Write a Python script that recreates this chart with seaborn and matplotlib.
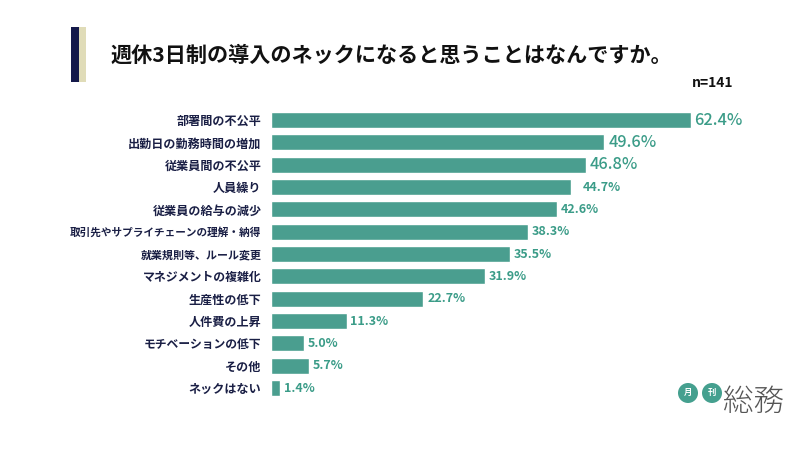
import matplotlib
matplotlib.use('Agg')
import matplotlib.pyplot as plt
import seaborn as sns
import pandas as pd
from matplotlib.patches import Rectangle, Circle

categories = ['部署間の不公平', '出勤日の勤務時間の増加', '従業員間の不公平', '人員繰り', '従業員の給与の減少',
              '取引先やサプライチェーンの理解・納得', '就業規則等、ルール変更', 'マネジメントの複雑化',
              '生産性の低下', '人件費の上昇', 'モチベーションの低下', 'その他', 'ネックはない']
values = [62.4, 49.6, 46.8, 44.7, 42.6, 38.3, 35.5, 31.9, 22.7, 11.3, 5.0, 5.7, 1.4]
value_sizes = [11.8, 11.8, 11.8, 9, 9, 9, 9, 9, 9, 9, 9, 9, 9]
# the two long labels are set tighter in the original
label_sizes = [8.7, 8.7, 8.7, 8.7, 8.7, 7.65, 7.9, 8.6, 8.7, 8.7, 8.5, 8.7, 8.7]

sns.set_theme(style='white')
plt.rcParams['font.family'] = ['Noto Sans CJK JP', 'DejaVu Sans']

GREEN = '#4a9e8f'
LABEL_GREEN = '#3b9c88'
NAVY = '#1a1f45'

df = pd.DataFrame({'item': categories, 'rate': values})

W, H = 800, 450
fig = plt.figure(figsize=(8, 4.5), dpi=100, facecolor='white')
ax = fig.add_axes([270.6 / W, 1 - 399.2 / H, 529 / W, 290.3 / H])

sns.barplot(data=df, y='item', x='rate', color=GREEN, saturation=1, width=0.72, ax=ax)
ax.set_xlim(0, 529 / 6.73)
ax.set_ylim(12.5, -0.5)
ax.set_xlabel('')
ax.set_ylabel('')
ax.set_xticks([])
ax.tick_params(axis='y', length=0, pad=6.5, labelcolor=NAVY)
for t, s in zip(ax.get_yticklabels(), label_sizes):
    t.set_fontweight('bold')
    t.set_fontsize(s)
sns.despine(ax=ax, left=True, bottom=True)

# value labels, the top three are larger and 人員繰り sits further out
for i, (v, s) in enumerate(zip(values, value_sizes)):
    pad = 8.5 if i == 3 else 2.7
    ax.annotate(f'{v:.1f}%', (v, i), xytext=(pad, 0), textcoords='offset points',
                va='center', ha='left', color=LABEL_GREEN, fontsize=s,
                fontweight='medium' if s > 10 else 'bold')

# title block
fig.add_artist(Rectangle((71 / W, 1 - 82 / H), 8 / W, 55 / H, transform=fig.transFigure, color='#14194a', lw=0))
fig.add_artist(Rectangle((79 / W, 1 - 82 / H), 7 / W, 55 / H, transform=fig.transFigure, color='#e0dcb8', lw=0))
fig.text(111 / W, 1 - 55.5 / H, '週休3日制の導入のネックになると思うことはなんですか。', fontsize=15.2,
         fontweight='bold', color='#111111', va='center', ha='left')
fig.text(692 / W, 1 - 83 / H, 'n=141', fontsize=10, fontweight='bold', color='#111111', va='center', ha='left')

# logo
overlay = fig.add_axes([0, 0, 1, 1], facecolor='none')
overlay.set_xlim(0, W)
overlay.set_ylim(H, 0)
overlay.axis('off')
for cx, txt in [(688, '月'), (712, '刊')]:
    overlay.add_patch(Circle((cx, 393), 10, color='#45a08f', lw=0))
    overlay.text(cx, 392.5, txt, color='white', fontsize=6, fontweight='bold', ha='center', va='center')
overlay.text(754, 402, '総務', color='#555555', fontsize=22, fontweight='light', ha='center', va='center')

fig.savefig('out.png', dpi=100)
